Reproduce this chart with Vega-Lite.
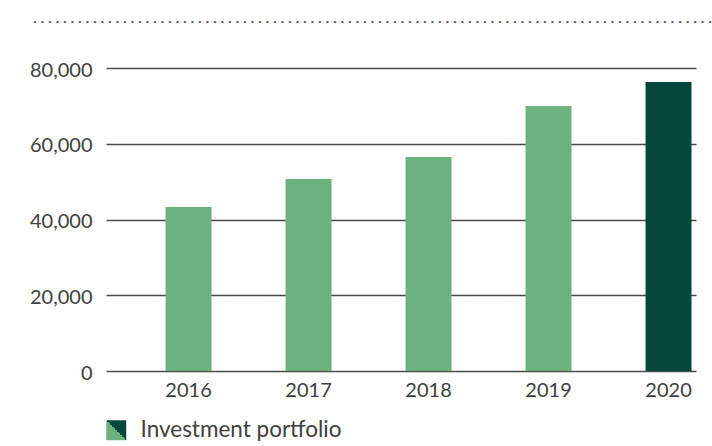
{
  "$schema": "https://vega.github.io/schema/vega-lite/v6.json",
  "width": 590,
  "height": 303,
  "autosize": "none",
  "padding": {"left": 106, "top": 68, "right": 16, "bottom": 75},
  "background": "white",
  "title": {
    "text": ". . . . . . . . . . . . . . . . . . . . . . . . . . . . . . . . . . . . . . . . . . . . . . . . . . . . . . . . . . . . . . . . . . . . . . . . . . . . . . . . . . . . . . . . . . .",
    "frame": "group",
    "anchor": "start",
    "dx": -73,
    "font": "Liberation Sans",
    "fontSize": 13.5,
    "fontWeight": "bold",
    "color": "#555555",
    "baseline": "alphabetic",
    "offset": 24,
    "limit": 0
  },
  "config": {
    "font": "Lato",
    "view": {"stroke": null},
    "axis": {
      "labelFont": "Lato",
      "labelFontSize": 20,
      "labelColor": "#404040",
      "ticks": false,
      "domain": false,
      "title": null
    }
  },
  "layer": [
    {
      "data": {
        "values": [
          {"year": "2016", "value": 43300, "kind": "past"},
          {"year": "2017", "value": 50700, "kind": "past"},
          {"year": "2018", "value": 56500, "kind": "past"},
          {"year": "2019", "value": 70000, "kind": "past"},
          {"year": "2020", "value": 76300, "kind": "current"}
        ]
      },
      "mark": {"type": "bar"},
      "encoding": {
        "x": {
          "field": "year",
          "type": "ordinal",
          "sort": null,
          "scale": {"paddingInner": 0.617, "paddingOuter": 0.267, "align": 0.93},
          "axis": {"labelAngle": 0, "labelPadding": 9, "grid": false}
        },
        "y": {
          "field": "value",
          "type": "quantitative",
          "scale": {"domain": [0, 80000], "nice": false},
          "axis": {
            "values": [0, 20000, 40000, 60000, 80000],
            "format": ",.0f",
            "labelPadding": 14,
            "labelOffset": 2,
            "grid": true,
            "gridColor": "#4a4a4a",
            "gridWidth": 1.3,
            "gridOpacity": 1
          }
        },
        "color": {
          "field": "kind",
          "type": "nominal",
          "scale": {"domain": ["past", "current"], "range": ["#6bb27e", "#03483a"]},
          "legend": null
        }
      }
    },
    {
      "data": {"values": [{"series": "Investment portfolio"}]},
      "mark": {
        "type": "point",
        "size": 0,
        "filled": true,
        "opacity": 1,
        "color": {
          "gradient": "linear",
          "x1": 0, "y1": 1, "x2": 1, "y2": 0,
          "stops": [
            {"offset": 0, "color": "#6bb27e"},
            {"offset": 0.5, "color": "#6bb27e"},
            {"offset": 0.5, "color": "#03483a"},
            {"offset": 1, "color": "#03483a"}
          ]
        }
      },
      "encoding": {
        "shape": {
          "field": "series",
          "type": "nominal",
          "scale": {"range": ["square"]},
          "legend": {
            "title": null,
            "orient": "none",
            "legendX": -1,
            "legendY": 351,
            "symbolSize": 400,
            "symbolStrokeWidth": 0,
            "symbolOpacity": 1,
            "labelFont": "Lato",
            "labelFontSize": 22.5,
            "labelColor": "#404040",
            "labelOffset": 13,
            "labelLimit": 0
          }
        }
      }
    }
  ]
}
